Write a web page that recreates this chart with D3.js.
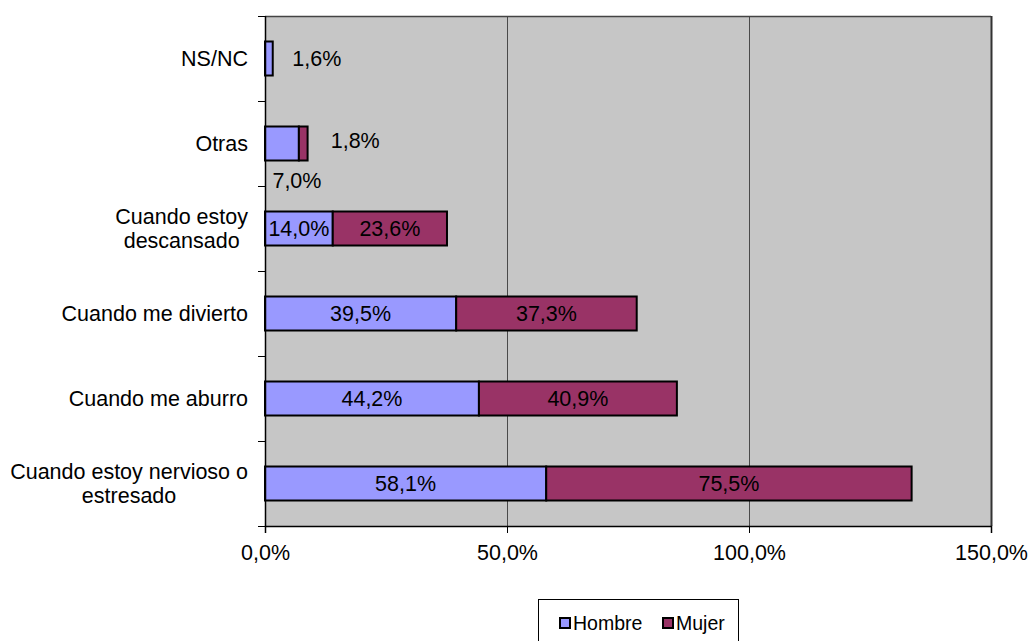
<!DOCTYPE html>
<html>
<head>
<meta charset="utf-8">
<script src="https://cdn.jsdelivr.net/npm/d3@7"></script>
<style>
  html, body { margin: 0; padding: 0; background: #fff; }
  svg { display: block; font-family: "Liberation Sans", Arial, sans-serif; }
</style>
</head>
<body>
<svg id="chart" width="1030" height="641"></svg>
<script>
// Categories, top to bottom
const categories = [
  "NS/NC",
  "Otras",
  "Cuando estoy descansado",
  "Cuando me divierto",
  "Cuando me aburro",
  "Cuando estoy nervioso o estresado"
];
// Wrapped category labels
const categoryLines = [
  ["NS/NC"],
  ["Otras"],
  ["Cuando estoy", "descansado"],
  ["Cuando me divierto"],
  ["Cuando me aburro"],
  ["Cuando estoy nervioso o", "estresado"]
];
const seriesNames = ["Hombre", "Mujer"];
const hombre = [1.6, 7.0, 14.0, 39.5, 44.2, 58.1];
const mujer  = [0,   1.8, 23.6, 37.3, 40.9, 75.5];
const xTicks = [0, 50, 100, 150];

const colors = { Hombre: "#9999FF", Mujer: "#993366" };

// Labels that sit outside their (narrow) segments: [category, series] -> offset in px from segment centre
const outsideLabels = {
  "NS/NC|Hombre": { dx: 48, dy: 0 },
  "Otras|Hombre": { dx: 15, dy: 37 },
  "Otras|Mujer":  { dx: 52, dy: -3 }
};

const FS = 21.5;
const svg = d3.select("#chart");
const margin = { left: 265, right: 1030 - 991, top: 16, bottom: 641 - 526 };
const W = 1030, H = 641;
const x0 = margin.left, x1 = W - margin.right, y0 = margin.top, y1 = H - margin.bottom;

const x = d3.scaleLinear().domain([0, 150]).range([x0, x1]);
const y = d3.scaleBand().domain(categories).range([y0, y1]).paddingInner(0.6).paddingOuter(0.3);

const fmt = v => d3.format(".1f")(v).replace(".", ",") + "%";

// Plot background
svg.append("rect").attr("x", x0).attr("y", y0).attr("width", x1 - x0).attr("height", y1 - y0)
  .attr("fill", "#C6C6C6");

// Vertical gridlines
svg.append("g").selectAll("line").data(xTicks.slice(1)).join("line")
  .attr("x1", d => Math.round(x(d)) + 0.5).attr("x2", d => Math.round(x(d)) + 0.5)
  .attr("y1", y0).attr("y2", y1)
  .attr("stroke", "#4a4a4a").attr("stroke-width", 1);

// Plot border (top)
svg.append("line").attr("x1", x0).attr("x2", x1).attr("y1", y0 + 0.5).attr("y2", y0 + 0.5)
  .attr("stroke", "#444").attr("stroke-width", 1.5);

// Stacked data
const rows = categories.map((c, i) => ({ cat: c, Hombre: hombre[i], Mujer: mujer[i] }));
const stack = d3.stack().keys(seriesNames)(rows);

const barG = svg.append("g");
stack.forEach(layer => {
  barG.append("g").selectAll("rect").data(layer.filter(d => d[1] - d[0] > 0)).join("rect")
    .attr("x", d => x(d[0]))
    .attr("y", d => y(d.data.cat))
    .attr("width", d => x(d[1]) - x(d[0]))
    .attr("height", y.bandwidth())
    .attr("fill", colors[layer.key])
    .attr("stroke", "#000").attr("stroke-width", 2);
});

// Value labels
const labelG = svg.append("g").attr("font-size", FS).attr("fill", "#000").attr("text-anchor", "middle");
stack.forEach(layer => {
  layer.forEach(d => {
    const v = d[1] - d[0];
    if (v <= 0) return;
    const off = outsideLabels[d.data.cat + "|" + layer.key] || { dx: 0, dy: 0 };
    labelG.append("text")
      .attr("x", (x(d[0]) + x(d[1])) / 2 + off.dx)
      .attr("y", y(d.data.cat) + y.bandwidth() / 2 + off.dy)
      .attr("dy", "0.36em")
      .text(fmt(v));
  });
});

// Right border of plot area
svg.append("line").attr("x1", x1 + 0.5).attr("x2", x1 + 0.5).attr("y1", y0).attr("y2", y1)
  .attr("stroke", "#333").attr("stroke-width", 2);

// X axis
const xAxis = svg.append("g").attr("transform", `translate(0,${y1})`)
  .call(d3.axisBottom(x).tickValues(xTicks).tickSize(7).tickPadding(12).tickFormat(fmt));
xAxis.select(".domain").attr("stroke", "#000").attr("stroke-width", 1.5);
xAxis.selectAll(".tick line").attr("stroke", "#000");
xAxis.selectAll("text").attr("font-size", FS).attr("font-family", "Liberation Sans, Arial, sans-serif").attr("fill", "#000");

// Y axis line with ticks at category boundaries
const step = y.step();
const bounds = d3.range(categories.length + 1).map(i => y0 + i * step);
svg.append("line").attr("x1", x0 + 0.5).attr("x2", x0 + 0.5).attr("y1", y0).attr("y2", y1)
  .attr("stroke", "#000").attr("stroke-width", 1.5);
svg.append("g").selectAll("line").data(bounds).join("line")
  .attr("x1", x0 - 7).attr("x2", x0).attr("y1", d => Math.round(d) + 0.5).attr("y2", d => Math.round(d) + 0.5)
  .attr("stroke", "#000").attr("stroke-width", 1);

// Category labels: block right-aligned to the axis, lines centred within the block
const catG = svg.append("g").attr("font-size", FS).attr("fill", "#000");
categories.forEach((c, i) => {
  const lines = categoryLines[i];
  const g = catG.append("g");
  const texts = lines.map(t => g.append("text").text(t).attr("text-anchor", "middle"));
  const maxW = d3.max(texts, t => t.node().getComputedTextLength());
  const cx = x0 - 17 - maxW / 2;
  const cy = y(c) + y.bandwidth() / 2;
  const lh = 24.5;
  texts.forEach((t, j) => {
    t.attr("x", cx).attr("y", cy + (j - (lines.length - 1) / 2) * lh).attr("dy", "0.36em");
  });
});

// Legend
const leg = svg.append("g");
leg.append("rect").attr("x", 538.5).attr("y", 599.5).attr("width", 200).attr("height", 44)
  .attr("fill", "#fff").attr("stroke", "#000").attr("stroke-width", 1);
const legItems = [{ name: "Hombre", x: 560 }, { name: "Mujer", x: 663 }];
legItems.forEach(it => {
  leg.append("rect").attr("x", it.x).attr("y", 618).attr("width", 10).attr("height", 10)
    .attr("fill", colors[it.name]).attr("stroke", "#000").attr("stroke-width", 2);
  leg.append("text").attr("x", it.x + 13).attr("y", 623).attr("dy", "0.36em")
    .attr("font-size", 19.5).attr("fill", "#000").text(it.name);
});
</script>
</body>
</html>
